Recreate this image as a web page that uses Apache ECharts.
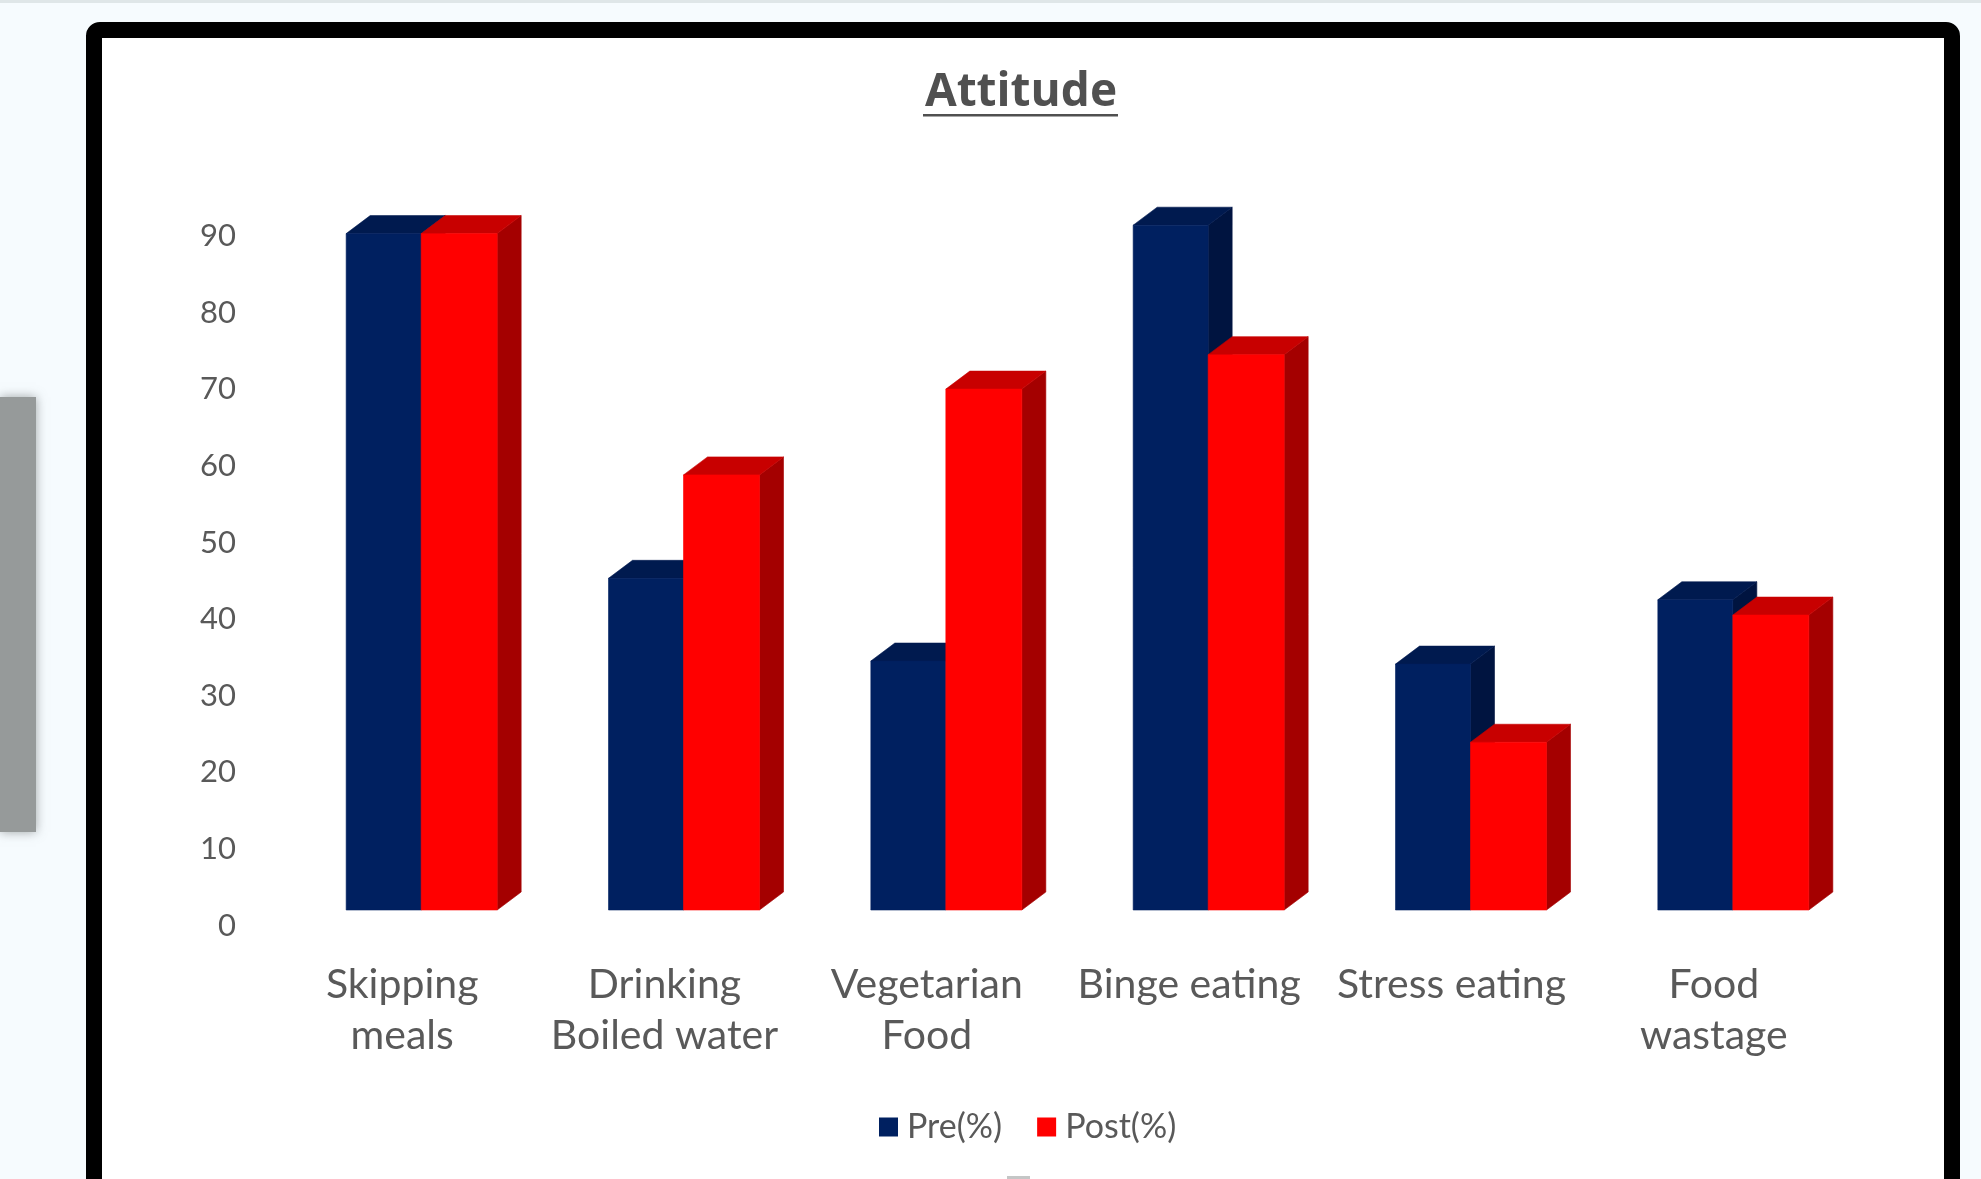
<!DOCTYPE html>
<html>
<head>
<meta charset="utf-8">
<style>
  html, body { margin: 0; padding: 0; background: #f6fbfe; }
  #chart { width: 1981px; height: 1179px; }
</style>
<script src="https://cdn.jsdelivr.net/npm/echarts@6/dist/echarts.min.js"></script>
</head>
<body>
<div id="chart"></div>
<script>
const categories = ['Skipping\nmeals', 'Drinking\nBoiled water', 'Vegetarian\nFood', 'Binge eating', 'Stress eating', 'Food\nwastage'];
const preValues = [88.3, 43.3, 32.5, 89.4, 32.1, 40.5];
const postValues = [88.3, 56.8, 68.0, 72.5, 21.9, 38.5];
const valueTicks = { min: 0, max: 90, interval: 10 };

const FONT = 'Lato, "Open Sans", sans-serif';
const PRE_W = 75;      // front face width of a Pre column
const POST_W = 76;     // front face width of a Post column
const DEPTH_X = 24;    // horizontal reach of the extruded faces
const DEPTH_Y = 18;    // vertical reach of the extruded faces
const CLUSTER_SHIFT = 19; // columns sit right of their label centre

// One extruded column: side, top, then front face.
function column3D(seriesOffset, width, front, top, side) {
  return function (params, api) {
    const i = api.value(0);
    const tip = api.coord([i, api.value(1)]);
    const base = api.coord([i, 0]);
    const x0 = tip[0] + CLUSTER_SHIFT + seriesOffset;
    const x1 = x0 + width;
    const yt = tip[1], yb = base[1];
    const poly = (points, fill) => ({
      type: 'polygon', shape: { points },
      style: { fill, stroke: fill, lineWidth: 0.6 }
    });
    return {
      type: 'group',
      children: [
        poly([[x1, yb], [x1 + DEPTH_X, yb - DEPTH_Y], [x1 + DEPTH_X, yt - DEPTH_Y], [x1, yt]], side),
        poly([[x0, yt], [x0 + DEPTH_X, yt - DEPTH_Y], [x1 + DEPTH_X, yt - DEPTH_Y], [x1, yt]], top),
        poly([[x0, yb], [x0, yt], [x1, yt], [x1, yb]], front)
      ]
    };
  };
}

const chart = echarts.init(document.getElementById('chart'), null, { renderer: 'canvas' });

chart.setOption({
  backgroundColor: '#f6fbfe',
  animation: false,
  title: {
    text: 'Attitude',
    left: 1016, top: 65, textAlign: 'center',
    textStyle: { fontFamily: '"Open Sans", Lato, sans-serif', fontSize: 46, fontWeight: 'bold', color: '#505050' }
  },
  legend: {
    left: 874, top: 1105,
    itemWidth: 19, itemHeight: 19, itemGap: 35,
    icon: 'rect',
    data: ['Pre(%)', 'Post(%)'],
    textStyle: { fontFamily: FONT, fontSize: 34, color: '#595959', padding: [0, 0, 0, 4] }
  },
  grid: { left: 271, right: 136, top: 220.6, height: 689.4, containLabel: false },
  xAxis: {
    type: 'category',
    data: categories,
    axisLine: { show: false },
    axisTick: { show: false },
    axisLabel: {
      interval: 0, margin: 50,
      fontFamily: FONT, fontSize: 41, lineHeight: 50.5, color: '#595959'
    }
  },
  yAxis: {
    type: 'value',
    min: valueTicks.min, max: valueTicks.max, interval: valueTicks.interval,
    splitLine: { show: false },
    axisLine: { show: false },
    axisTick: { show: false },
    axisLabel: {
      margin: 35,
      verticalAlign: 'top',
      lineHeight: 31,
      fontFamily: FONT, fontSize: 31, color: '#595959'
    }
  },
  series: [
    {
      name: 'Pre(%)', type: 'custom',
      itemStyle: { color: '#002060' },
      encode: { x: 0, y: 1 },
      data: preValues.map((v, i) => [i, v]),
      renderItem: column3D(-PRE_W, PRE_W, '#002060', '#001a4f', '#001440')
    },
    {
      name: 'Post(%)', type: 'custom',
      itemStyle: { color: '#ff0000' },
      encode: { x: 0, y: 1 },
      data: postValues.map((v, i) => [i, v]),
      renderItem: column3D(0, POST_W, '#ff0000', '#c80000', '#a40000')
    }
  ],
  graphic: [
    // white panel with a heavy black frame, running off the bottom edge
    { type: 'rect', z: -10, shape: { x: 94, y: 30, width: 1858, height: 1200, r: 6 },
      style: { fill: '#ffffff', stroke: '#000000', lineWidth: 16 } },
    // grey tab at the left edge
    { type: 'rect', z: -10, shape: { x: 0, y: 397, width: 36, height: 435 },
      style: { fill: '#969a9a', shadowBlur: 10, shadowColor: 'rgba(90,95,95,0.55)' } },
    // thin strip along the top edge
    { type: 'rect', z: -10, shape: { x: 0, y: 0, width: 1981, height: 3 },
      style: { fill: '#dfe6e8' } },
    // title underline
    { type: 'rect', z: 10, shape: { x: 923, y: 114, width: 195, height: 2.5 },
      style: { fill: '#505050' } },
    // sliver of a control peeking in at the bottom edge
    { type: 'rect', z: -5, shape: { x: 1007, y: 1176, width: 23, height: 3 },
      style: { fill: '#c4c6c6' } }
  ]
});
</script>
</body>
</html>
